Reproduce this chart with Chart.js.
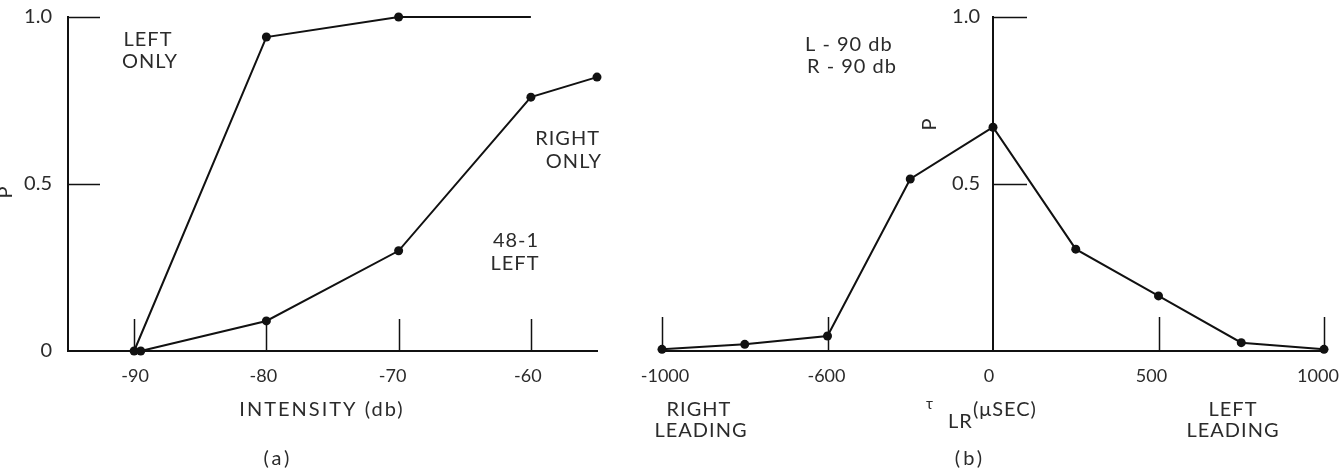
<!DOCTYPE html>
<html>
<head>
<meta charset="utf-8">
<script src="https://cdn.jsdelivr.net/npm/chart.js@4.4.1/dist/chart.umd.min.js"></script>
<style>
  html, body { margin: 0; padding: 0; background: #fff; }
  #wrap { position: relative; width: 1339px; height: 471px; overflow: hidden; }
  canvas { position: absolute; top: 0; }
</style>
</head>
<body>
<div id="wrap">
  <canvas id="chartA" width="640" height="471" style="left:0"></canvas>
  <canvas id="chartB" width="699" height="471" style="left:640px"></canvas>
</div>
<script>
// (a) P against intensity
var intensityLeftOnly = [-90, -80, -70, -60];
var pLeftOnly = [0, 0.94, 1.0, 1.0];
var intensityRightOnly = [-89.5, -80, -70, -60, -55];
var pRightOnly = [0, 0.09, 0.30, 0.76, 0.82];
var intensityTicks = [-90, -80, -70, -60];
var intensityTickLabels = ['-90', '-80', '-70', '-60'];

// (b) P against interaural delay
var tauLR = [-1000, -750, -500, -250, 0, 250, 500, 750, 1000];
var pTau = [0.005, 0.02, 0.045, 0.515, 0.67, 0.305, 0.165, 0.025, 0.005];
var tauTicks = [-1000, -500, 0, 500, 1000];
var tauTickLabels = ['-1000', '-600', '0', '500', '1000'];

var pTicks = [0, 0.5, 1];
var pTickLabels = ['0', '0.5', '1.0'];

var INK = '#111';
var TEXT = '#2b2b2b';
var FONT = "Lato, 'Open Sans', sans-serif";

Chart.defaults.font.family = FONT;
Chart.defaults.color = TEXT;

function toPoints(xs, ys) {
  var pts = [];
  for (var i = 0; i < xs.length; i++) pts.push({ x: xs[i], y: ys[i] });
  return pts;
}

function lineSet(xs, ys, radius) {
  return {
    data: toPoints(xs, ys),
    showLine: true,
    borderColor: INK,
    borderWidth: 2,
    backgroundColor: INK,
    pointRadius: radius || 4.5,
    pointBorderWidth: 0,
    clip: false
  };
}

// short tick marks drawn inside the plot, like the original figure
var innerTicks = {
  id: 'innerTicks',
  afterDraw: function(chart, args, opts) {
    var ctx = chart.ctx, xs = chart.scales.x, ys = chart.scales.y;
    var area = chart.chartArea;
    var axisX = opts.yAxisAt == null ? area.left : xs.getPixelForValue(opts.yAxisAt);
    ctx.save();
    ctx.strokeStyle = INK;
    ctx.lineWidth = 1.5;
    ctx.beginPath();
    (opts.x || []).forEach(function(v) {
      var px = Math.round(xs.getPixelForValue(v)) + 0.5;
      ctx.moveTo(px, area.bottom);
      ctx.lineTo(px, area.bottom - opts.len);
    });
    (opts.y || []).forEach(function(v) {
      var py = Math.round(ys.getPixelForValue(v)) + 0.5;
      ctx.moveTo(axisX, py);
      ctx.lineTo(axisX + opts.len, py);
    });
    ctx.stroke();
    ctx.restore();
  }
};

// move some tick labels sideways (the y axis sitting at x = 0 ignores ticks.padding)
var labelNudge = {
  id: 'labelNudge',
  beforeDraw: function(chart, args, opts) {
    ['x', 'y'].forEach(function(id) {
      var shifts = opts[id];
      var s = chart.scales[id];
      if (!shifts || !s) return;
      var items = s._labelItems || (s._labelItems = s._computeLabelItems(chart.chartArea));
      if (items._nudged) return;
      items._nudged = true;
      items.forEach(function(it, i) { it.options.translation[0] += shifts[i] || 0; });
    });
  }
};

// free text on the figure
var notes = {
  id: 'notes',
  afterDraw: function(chart, args, opts) {
    var ctx = chart.ctx;
    (opts.items || []).forEach(function(n) {
      ctx.save();
      ctx.fillStyle = TEXT;
      ctx.font = (n.size || 20) + 'px ' + FONT;
      ctx.letterSpacing = (n.spacing || 1) + 'px';
      ctx.textAlign = n.align || 'center';
      ctx.textBaseline = 'middle';
      ctx.translate(n.x, n.y);
      if (n.rotate) ctx.rotate(n.rotate);
      ctx.fillText(n.text, 0, 0);
      ctx.restore();
    });
  }
};

function tickFont(size) {
  return { family: FONT, size: size || 18 };
}

function noPad(scale) {
  scale.paddingLeft = 0; scale.paddingRight = 0;
  scale.paddingTop = 0; scale.paddingBottom = 0;
}

var chartA = new Chart(document.getElementById('chartA'), {
  type: 'scatter',
  data: {
    datasets: [
      lineSet(intensityLeftOnly, pLeftOnly, [4.5, 4.5, 4.5, 0]),
      lineSet(intensityRightOnly, pRightOnly)
    ]
  },
  options: {
    responsive: false,
    animation: false,
    layout: { padding: { top: 17, right: 43, left: 0, bottom: 0 } },
    plugins: {
      legend: { display: false },
      tooltip: { enabled: false },
      innerTicks: { x: intensityTicks, y: [0.5, 1], len: 32 },
      labelNudge: { x: [1, -3, -6, -3] },
      notes: {
        items: [
          { text: 'LEFT', x: 148, y: 40 },
          { text: 'ONLY', x: 150, y: 62 },
          { text: 'RIGHT', x: 600, y: 139, align: 'right' },
          { text: 'ONLY', x: 602, y: 162, align: 'right' },
          { text: '48-1', x: 516, y: 241 },
          { text: 'LEFT', x: 515, y: 264 },
          { text: 'P', x: 6, y: 192, rotate: -Math.PI / 2 },
          { text: 'INTENSITY (db)', x: 322, y: 410, spacing: 2 },
          { text: '(a)', x: 278, y: 459, spacing: 3 }
        ]
      }
    },
    scales: {
      x: {
        type: 'linear',
        min: -95,
        max: -55,
        afterBuildTicks: function(s) { s.ticks = intensityTicks.map(function(v) { return { value: v }; }); },
        afterFit: function(s) { s.height = 120; noPad(s); },
        ticks: {
          padding: 14,
          font: tickFont(),
          color: TEXT,
          callback: function(v, i) { return intensityTickLabels[i]; }
        },
        grid: { display: false, drawTicks: false },
        border: { display: true, color: INK, width: 2 }
      },
      y: {
        type: 'linear',
        min: 0,
        max: 1,
        afterBuildTicks: function(s) { s.ticks = pTicks.map(function(v) { return { value: v }; }); },
        afterFit: function(s) { s.width = 68; noPad(s); },
        ticks: {
          padding: 16,
          font: tickFont(20),
          color: TEXT,
          callback: function(v, i) { return pTickLabels[i]; }
        },
        grid: { display: false, drawTicks: false },
        border: { display: true, color: INK, width: 2 }
      }
    }
  },
  plugins: [innerTicks, labelNudge, notes]
});

var chartB = new Chart(document.getElementById('chartB'), {
  type: 'scatter',
  data: {
    datasets: [lineSet(tauLR, pTau)]
  },
  options: {
    responsive: false,
    animation: false,
    layout: { padding: { top: 17, right: 15, left: 22, bottom: 0 } },
    plugins: {
      legend: { display: false },
      tooltip: { enabled: false },
      innerTicks: { x: [-1000, -500, 500, 1000], y: [0.5, 1], len: 34, yAxisAt: 0 },
      labelNudge: { x: [3, -1, -4, -7, -6], y: [-13, -13] },
      notes: {
        items: [
          { text: 'L - 90 db', x: 165, y: 45, align: 'left' },
          { text: 'R - 90 db', x: 167, y: 67, align: 'left' },
          { text: 'P', x: 290, y: 124, rotate: -Math.PI / 2 },
          { text: 'RIGHT', x: 59, y: 410 },
          { text: 'LEADING', x: 61, y: 431 },
          { text: 'LEFT', x: 593, y: 410 },
          { text: 'LEADING', x: 593, y: 431 },
          { text: '\u03C4', x: 290, y: 404, size: 15 },
          { text: 'LR', x: 308, y: 422, align: 'left' },
          { text: '(\u03BCSEC)', x: 333, y: 410, align: 'left' },
          { text: '(b)', x: 330, y: 459, spacing: 3 }
        ]
      }
    },
    scales: {
      x: {
        type: 'linear',
        min: -1000,
        max: 1000,
        afterBuildTicks: function(s) { s.ticks = tauTicks.map(function(v) { return { value: v }; }); },
        afterFit: function(s) { s.height = 120; noPad(s); },
        ticks: {
          padding: 14,
          font: tickFont(),
          color: TEXT,
          callback: function(v, i) { return tauTickLabels[i]; }
        },
        grid: { display: false, drawTicks: false },
        border: { display: true, color: INK, width: 2 }
      },
      y: {
        type: 'linear',
        position: { x: 0 },
        min: 0,
        max: 1,
        afterBuildTicks: function(s) { s.ticks = [0.5, 1].map(function(v) { return { value: v }; }); },
        afterFit: function(s) { noPad(s); },
        ticks: {
          font: tickFont(20),
          color: TEXT,
          callback: function(v, i) { return pTickLabels[i + 1]; }
        },
        grid: { display: false, drawTicks: false },
        border: { display: true, color: INK, width: 2 }
      }
    }
  },
  plugins: [innerTicks, labelNudge, notes]
});
</script>
</body>
</html>
